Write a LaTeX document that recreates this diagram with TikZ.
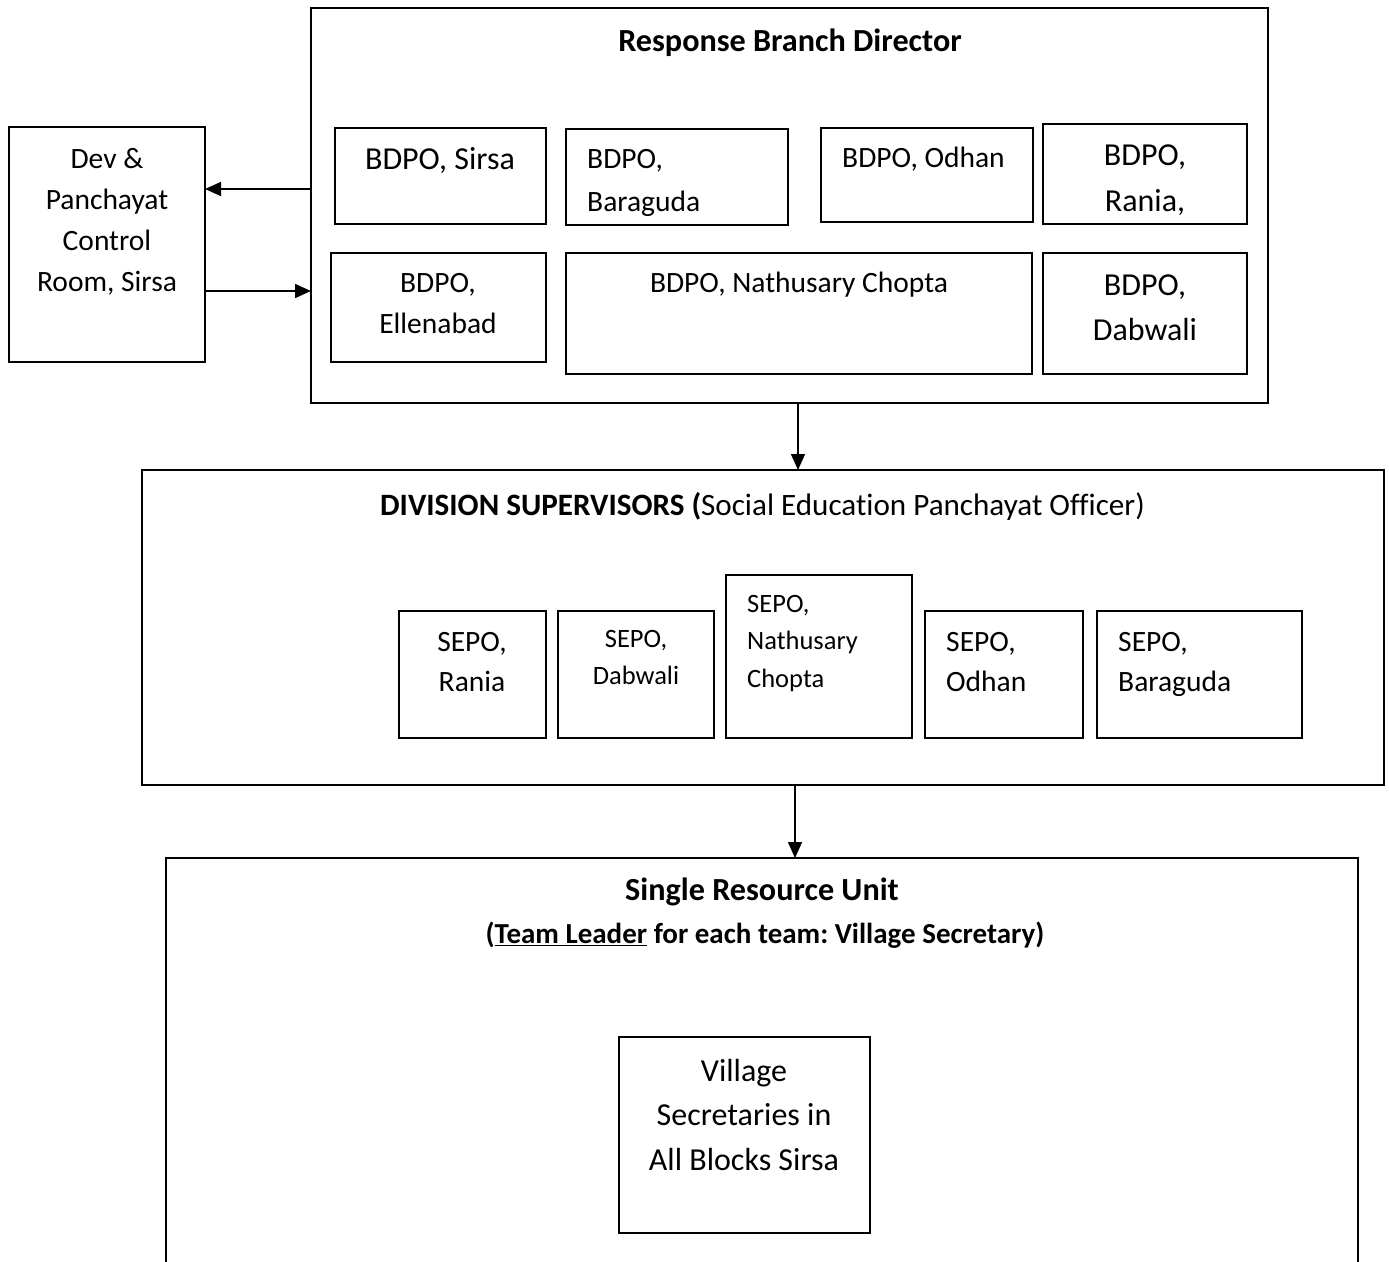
\documentclass[tikz,border=0pt]{standalone}
\usepackage{fontspec}
\setmainfont{Carlito}[Ligatures=NoCommon]
\usetikzlibrary{arrows.meta}
\frenchspacing
\begin{document}
\begin{tikzpicture}[x=1pt,y=-1pt,
  box/.style={draw, line width=1.6pt, inner sep=0pt, outer sep=0pt, anchor=north west},
  txt/.style={inner sep=0pt, align=center, font=\fontsize{32}{#1}\selectfont},
  txt/.default=41,
  mtxt/.style={inner sep=0pt, align=center, font=\fontsize{29.5}{#1}\selectfont},
  mtxt/.default=41,
  ltxt/.style={inner sep=0pt, align=left, anchor=west, font=\fontsize{29.5}{#1}\selectfont},
  ltxt/.default=41,
  stxt/.style={inner sep=0pt, font=\fontsize{26.5}{#1}\selectfont},
  stxt/.default=37.5,
  head/.style={inner sep=0pt, font=\fontsize{32.2}{38}\selectfont\bfseries},
  arr/.style={line width=1.6pt, -{Triangle[length=16pt,width=14pt]}}]
\useasboundingbox (0,0) rectangle (1389,1261);

% ---- Response branch ----
\node[box, minimum width=957pt, minimum height=395pt] (rbd) at (311,8) {};
\node[head] (rbd-t) at (790,43) {Response Branch Director};

\node[box, minimum width=196pt, minimum height=235pt] (dev) at (9,127) {};
\node[mtxt] (dev-t) at (107,221.5) {Dev \&\\Panchayat\\Control\\Room, Sirsa};

\node[box, minimum width=211pt, minimum height=96pt] (b-sirsa) at (335,128) {};
\node[txt] (b-sirsa-t) at (440,161) {BDPO, Sirsa};

\node[box, minimum width=222pt, minimum height=96pt] (b-bara) at (566,129) {};
\node[ltxt=43] (b-bara-t) at (587,182.5) {BDPO,\\Baraguda};

\node[box, minimum width=212pt, minimum height=94pt] (b-odhan) at (821,128) {};
\node[ltxt] (b-odhan-t) at (842,159) {BDPO, Odhan};

\node[box, minimum width=204pt, minimum height=100pt] (b-rania) at (1043,124) {};
\node[txt=46] (b-rania-t) at (1145,180) {BDPO,\\Rania,};

\node[box, minimum width=215pt, minimum height=109pt] (b-ellen) at (331,253) {};
\node[mtxt] (b-ellen-t) at (438,304) {BDPO,\\Ellenabad};

\node[box, minimum width=466pt, minimum height=121pt] (b-nath) at (566,253) {};
\node[mtxt] (b-nath-t) at (799,285) {BDPO, Nathusary Chopta};

\node[box, minimum width=204pt, minimum height=121pt] (b-dab) at (1043,253) {};
\node[txt=45] (b-dab-t) at (1145,307.5) {BDPO,\\Dabwali};

% links with the control room
\coordinate (y-out) at (0,189);
\coordinate (y-in) at (0,291);
\draw[arr] (rbd.west |- y-out) -- (dev.east |- y-out);
\draw[arr] (dev.east |- y-in) -- (rbd.west |- y-in);

% ---- Division supervisors ----
\node[box, minimum width=1242pt, minimum height=315pt] (div) at (142,470) {};
\node[inner sep=0pt, font=\fontsize{31.1}{38}\selectfont] (div-t) at (762.5,506)
  {\textbf{DIVISION SUPERVISORS (}Social Education Panchayat Officer)};

\coordinate (x1) at (798,0);
\draw[arr] (rbd.south -| x1) -- (div.north -| x1);

\node[box, minimum width=147pt, minimum height=127pt] (s-rania) at (399,611) {};
\node[mtxt=40] (s-rania-t) at (472,662) {SEPO,\\Rania};

\node[box, minimum width=156pt, minimum height=127pt] (s-dab) at (558,611) {};
\node[stxt, align=center] (s-dab-t) at (636,657.5) {SEPO,\\Dabwali};

\node[box, minimum width=186pt, minimum height=163pt] (s-nath) at (726,575) {};
\node[stxt, align=left, anchor=west] (s-nath-t) at (747,643.5) {SEPO,\\Nathusary\\Chopta};

\node[box, minimum width=158pt, minimum height=127pt] (s-odhan) at (925,611) {};
\node[ltxt=40] (s-odhan-t) at (946,662) {SEPO,\\Odhan};

\node[box, minimum width=205pt, minimum height=127pt] (s-bara) at (1097,611) {};
\node[ltxt=40] (s-bara-t) at (1118,664) {SEPO,\\Baraguda};

% ---- Single resource unit ----
\node[box, minimum width=1192pt, minimum height=440pt] (sru) at (166,858) {};
\node[head] (sru-t) at (762,892) {Single Resource Unit};
\node[inner sep=0pt, font=\fontsize{29}{35}\selectfont\bfseries] (sru-s) at (765,935)
  {(\underline{Team Leader} for each team: Village Secretary)};

\coordinate (x2) at (795,0);
\draw[arr] (div.south -| x2) -- (sru.north -| x2);

\node[box, minimum width=251pt, minimum height=196pt] (vs) at (619,1037) {};
\node[txt=44.5] (vs-t) at (744,1114.5) {Village\\Secretaries in\\All Blocks Sirsa};
\end{tikzpicture}
\end{document}
